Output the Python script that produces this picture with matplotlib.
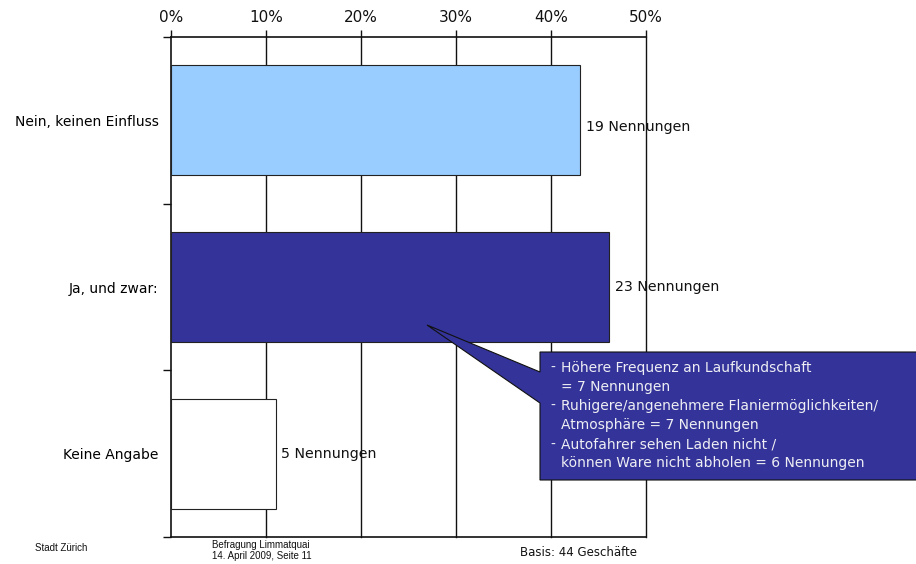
import matplotlib
matplotlib.use("Agg")
import matplotlib.pyplot as plt
from matplotlib.patches import Polygon

# Survey answers: share of shops (percent) and number of mentions
categories = ["Nein, keinen Einfluss", "Ja, und zwar:", "Keine Angabe"]
shares_pct = [43.1, 46.1, 11.0]
mentions = [19, 23, 5]
bar_colors = ["#99CCFF", "#333399", "#FFFFFF"]
x_ticks = [0, 10, 20, 30, 40, 50]
x_tick_labels = ["0%", "10%", "20%", "30%", "40%", "50%"]

callout_lines = [
    ("- ", "Höhere Frequenz an Laufkundschaft"),
    ("", "= 7 Nennungen"),
    ("- ", "Ruhigere/angenehmere Flaniermöglichkeiten/"),
    ("", "Atmosphäre = 7 Nennungen"),
    ("- ", "Autofahrer sehen Laden nicht /"),
    ("", "können Ware nicht abholen = 6 Nennungen"),
]

W, H = 916, 564
fig = plt.figure(figsize=(W / 100, H / 100), dpi=100)
ax = fig.add_axes([171 / W, 1 - 537 / H, (646 - 171) / W, (537 - 37) / H])

ypos = list(range(len(categories)))
ax.barh(ypos, shares_pct, height=0.66, color=bar_colors,
        edgecolor="#222222", linewidth=0.8, zorder=3)

label_dy = [0.04, 0.0, 0.0]
for y, v, n, dy in zip(ypos, shares_pct, mentions, label_dy):
    ax.text(v + 0.6, y + dy, f"{n} Nennungen", va="center", ha="left",
            fontsize=10.2, family="DejaVu Sans", color="#111111", zorder=0.5)

ax.set_xlim(0, 50)
ax.set_ylim(2.5, -0.5)

# x axis on top
ax.xaxis.tick_top()
ax.set_xticks(x_ticks)
ax.set_xticklabels(x_tick_labels, fontsize=11, family="DejaVu Sans")
ax.tick_params(axis="x", direction="out", length=5, width=1, pad=4, colors="#111111")
for x in x_ticks[1:]:
    ax.axvline(x, color="#111111", linewidth=1, zorder=1, clip_on=False)

# y axis: ticks at category boundaries, labels centred on the bars
ax.set_yticks([-0.5, 0.5, 1.5, 2.5])
ax.set_yticklabels([])
ax.set_yticks(ypos, minor=True)
ax.set_yticklabels(categories, minor=True, fontsize=10, family="DejaVu Sans")
ax.tick_params(axis="y", which="major", direction="out", length=6, width=1, colors="#111111")
ax.tick_params(axis="y", which="minor", length=0, pad=9)

for side in ["top", "bottom", "left"]:
    ax.spines[side].set_linewidth(1.2)
    ax.spines[side].set_color("#111111")
ax.spines["right"].set_visible(False)

# Speech-bubble callout pointing into the "Ja" bar
def px_to_data(px, py):
    xd = (px - 171) / (646 - 171) * 50
    yd = -0.5 + (py - 37) / (537 - 37) * 3
    return (xd, yd)

bubble = [px_to_data(*p) for p in [
    (540, 352), (918, 352), (918, 480), (540, 480),
    (540, 403), (427, 325), (540, 372)]]
ax.add_patch(Polygon(bubble, closed=True, facecolor="#333399",
                     edgecolor="#111111", linewidth=0.8, clip_on=False, zorder=5))

line_y0, line_dy = 368, 19.1
for i, (dash, txt) in enumerate(callout_lines):
    yy = 1 - (line_y0 + i * line_dy) / H
    if dash:
        fig.text(550 / W, yy, "-", color="#EEEEF4", fontsize=10,
                 family="DejaVu Sans", va="center", ha="left", zorder=6)
    fig.text(561 / W, yy, txt, color="#EEEEF4", fontsize=10,
             family="DejaVu Sans", va="center", ha="left", zorder=6)

# Footer
fig.text(35 / W, 1 - 548 / H, "Stadt Zürich", fontsize=7,
         family="Liberation Sans", va="center", color="#111111")
fig.text(212 / W, 1 - 545 / H, "Befragung Limmatquai", fontsize=7,
         family="Liberation Sans", va="center", color="#111111")
fig.text(212 / W, 1 - 556 / H, "14. April 2009, Seite 11", fontsize=7,
         family="Liberation Sans", va="center", color="#111111")
fig.text(520 / W, 1 - 553 / H, "Basis: 44 Geschäfte", fontsize=8.5,
         family="DejaVu Sans", va="center", color="#111111")

fig.savefig("out.png", dpi=100)
